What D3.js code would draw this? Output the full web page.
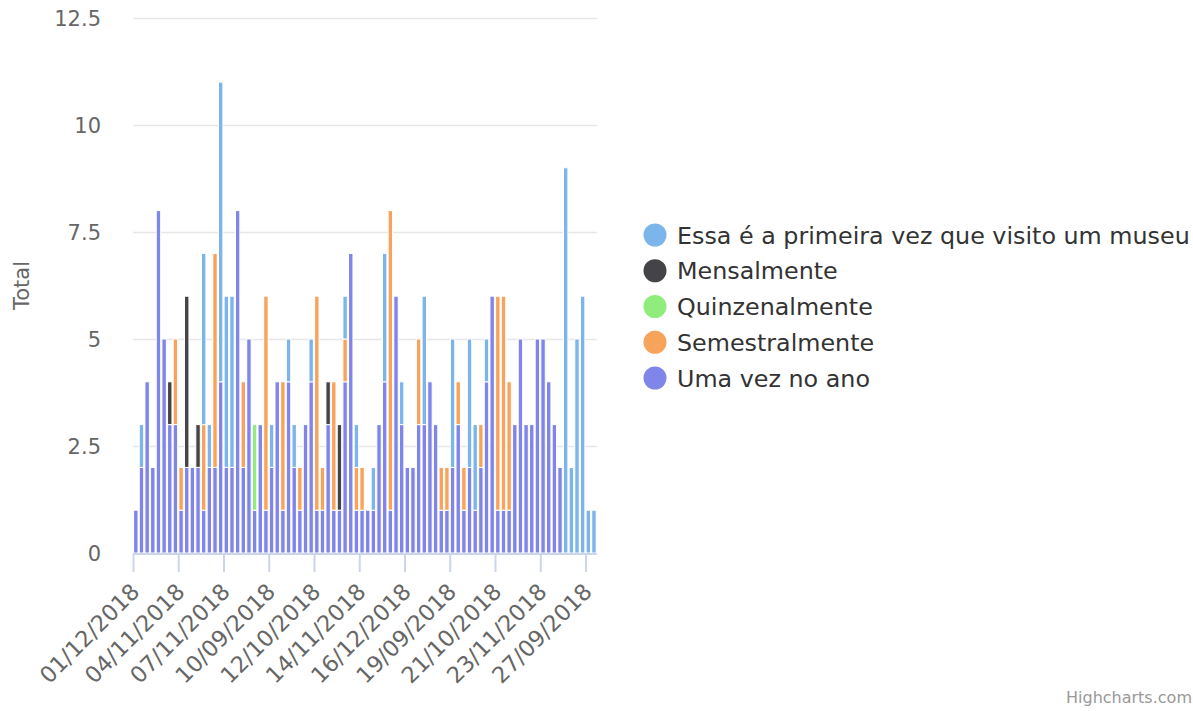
<!DOCTYPE html>
<html>
<head>
<meta charset="utf-8">
<script src="https://cdn.jsdelivr.net/npm/d3@7"></script>
<style>
  html, body { margin: 0; padding: 0; background: #fff; }
  svg { display: block; font-family: "DejaVu Sans", sans-serif; }
</style>
</head>
<body>
<svg id="chart" width="1193" height="711"></svg>
<script>
// ---------------- data ----------------
const categories = [
  "01/12/2018","02/10/2018","02/11/2018","03/10/2018","03/11/2018","03/12/2018","04/09/2018","04/10/2018",
  "04/11/2018","05/09/2018","05/10/2018","05/11/2018","05/12/2018","06/09/2018","06/10/2018","06/11/2018",
  "07/11/2018","07/12/2018","08/09/2018","08/10/2018","08/11/2018","09/10/2018","09/11/2018","09/12/2018",
  "10/09/2018","10/10/2018","10/11/2018","11/09/2018","11/10/2018","11/11/2018","11/12/2018","12/09/2018",
  "12/10/2018","12/11/2018","12/12/2018","13/09/2018","13/10/2018","13/11/2018","13/12/2018","14/10/2018",
  "14/11/2018","14/12/2018","15/09/2018","15/10/2018","15/11/2018","16/09/2018","16/10/2018","16/11/2018",
  "16/12/2018","17/09/2018","17/10/2018","17/11/2018","18/09/2018","18/10/2018","18/11/2018","18/12/2018",
  "19/09/2018","19/10/2018","19/11/2018","20/09/2018","20/10/2018","20/11/2018","20/12/2018","21/09/2018",
  "21/10/2018","21/11/2018","22/09/2018","22/10/2018","22/11/2018","22/12/2018","23/09/2018","23/10/2018",
  "23/11/2018","24/09/2018","24/10/2018","24/11/2018","25/09/2018","25/10/2018","26/09/2018","26/10/2018",
  "27/09/2018","28/09/2018"
];

const seriesNames = [
  "Essa é a primeira vez que visito um museu",
  "Mensalmente",
  "Quinzenalmente",
  "Semestralmente",
  "Uma vez no ano"
];
const seriesColors = ["#7cb5ec", "#434348", "#90ed7d", "#f7a35c", "#8085e9"];

const essa = [
  0,1,0,0,0,0,0,0,0,0,
  0,0,4,1,0,7,4,4,0,0,
  0,0,0,0,1,0,0,1,1,0,
  0,1,0,0,0,0,0,1,0,1,
  0,0,1,0,3,0,0,1,0,0,
  0,3,0,0,0,0,3,0,0,3,
  2,0,1,0,0,0,0,0,0,0,
  0,0,0,0,0,0,9,2,5,6,
  1,1
];
const mensalmente = [
  0,0,0,0,0,0,1,0,0,4,
  0,1,0,0,0,0,0,0,0,0,
  0,0,0,0,0,0,0,0,0,0,
  0,0,0,0,1,0,2,0,0,0,
  0,0,0,0,0,0,0,0,0,0,
  0,0,0,0,0,0,0,0,0,0,
  0,0,0,0,0,0,0,0,0,0,
  0,0,0,0,0,0,0,0,0,0,
  0,0
];
const quinzenalmente = [
  0,0,0,0,0,0,0,0,0,0,
  0,0,0,0,0,0,0,0,0,0,
  0,2,0,0,0,0,0,0,0,0,
  0,0,0,0,0,0,0,0,0,0,
  0,0,0,0,0,0,0,0,0,0,
  0,0,0,0,0,0,0,0,0,0,
  0,0,0,0,0,0,0,0,0,0,
  0,0,0,0,0,0,0,0,0,0,
  0,0
];
const semestralmente = [
  0,0,0,0,0,0,0,2,1,0,
  0,0,2,0,5,0,0,0,0,2,
  0,0,0,5,0,0,3,0,0,1,
  0,0,5,1,0,3,0,1,0,1,
  1,0,0,0,0,7,0,0,0,0,
  2,0,0,0,1,1,0,1,1,0,
  0,1,0,0,5,5,3,0,0,0,
  0,0,0,0,0,0,0,0,0,0,
  0,0
];
const umaVez = [
  1,2,4,2,8,5,3,3,1,2,
  2,2,1,2,2,4,2,2,8,2,
  5,1,3,1,2,4,1,4,2,1,
  3,4,1,1,3,1,1,4,7,1,
  1,1,1,3,4,1,6,3,2,2,
  3,3,4,3,1,1,2,3,1,2,
  1,2,4,6,1,1,1,3,5,3,
  3,5,5,4,3,2,0,0,0,0,
  0,0
];

const yTickValues = [0, 2.5, 5, 7.5, 10, 12.5];
const yTickLabels = ["0", "2.5", "5", "7.5", "10", "12.5"];
const xLabelStep = 8;
const yTitle = "Total";
const creditText = "Highcharts.com";

// ---------------- layout ----------------
const svg = d3.select("#chart");
const plot = { left: 133, right: 596.8, top: 18, bottom: 553 };
const FONT = "DejaVu Sans, sans-serif";

const seriesArrays = [essa, mensalmente, quinzenalmente, semestralmente, umaVez];
const keys = seriesNames;
const rows = categories.map((c, i) => {
  const r = { cat: c };
  keys.forEach((k, s) => r[k] = seriesArrays[s][i]);
  return r;
});
const stackOrder = [4, 3, 2, 1, 0].map(i => keys[i]); // Uma vez at bottom, Essa on top
const stacked = d3.stack().keys(stackOrder)(rows);

const x = d3.scaleBand().domain(categories).range([plot.left, plot.right])
  .paddingInner(0.22).paddingOuter(0.11);
const xSlot = d3.scaleLinear().domain([0, categories.length]).range([plot.left, plot.right]);
const y = d3.scaleLinear().domain([0, 12.5]).range([plot.bottom, plot.top]);

// grid + y labels
const yAxis = d3.axisLeft(y).tickValues(yTickValues)
  .tickSize(-(plot.right - plot.left)).tickPadding(32)
  .tickFormat((d, i) => yTickLabels[i]);
const gy = svg.append("g").attr("transform", `translate(${plot.left},0)`).call(yAxis);
gy.select(".domain").remove();
gy.selectAll(".tick line").attr("stroke", "#e6e6e6").attr("stroke-width", 1.6);
gy.selectAll(".tick text").attr("fill", "#666666").style("font-size", "21px")
  .style("font-family", FONT).attr("dy", "0.38em");

// bars
const colorOf = {};
keys.forEach((k, i) => colorOf[k] = seriesColors[i]);
svg.append("g").selectAll("g").data(stacked).join("g")
  .attr("fill", d => colorOf[d.key])
  .selectAll("rect").data(d => d.filter(p => p[1] - p[0] > 0)).join("rect")
  .attr("x", d => x(d.data.cat))
  .attr("width", x.bandwidth())
  .attr("y", d => y(d[1]))
  .attr("height", d => y(d[0]) - y(d[1]))
  .attr("stroke", "#ffffff").attr("stroke-width", 1);

// x axis
const tickIdx = d3.range(0, categories.length, xLabelStep);
const xAxis = d3.axisBottom(xSlot).tickValues(tickIdx).tickSize(18).tickFormat("");
const gx = svg.append("g").attr("transform", `translate(0,${plot.bottom + 1})`).call(xAxis);
gx.select(".domain").attr("stroke", "#ccd6eb").attr("stroke-width", 2)
  .attr("d", `M${plot.left},0H${plot.right}`);
gx.selectAll(".tick line").attr("stroke", "#ccd6eb").attr("stroke-width", 2);

svg.append("g").selectAll("text").data(tickIdx).join("text")
  .attr("transform", i => `translate(${x(categories[i]) + x.bandwidth() / 2 + 5},${plot.bottom + 40}) rotate(-45)`)
  .attr("text-anchor", "end")
  .attr("fill", "#666666")
  .style("font-size", "22.5px").style("font-family", FONT)
  .text(i => categories[i]);

// y title
svg.append("text")
  .attr("transform", `translate(29,${(plot.top + plot.bottom) / 2}) rotate(-90)`)
  .attr("text-anchor", "middle")
  .attr("fill", "#666666")
  .style("font-size", "21px").style("font-family", FONT)
  .text(yTitle);

// legend
const legend = svg.append("g");
const legendY = d3.scaleLinear().domain([0, 4]).range([235, 378]);
const items = legend.selectAll("g").data(seriesNames).join("g")
  .attr("transform", (d, i) => `translate(655,${legendY(i)})`);
items.append("circle").attr("r", 11.5).attr("fill", (d, i) => seriesColors[i]);
items.append("text").attr("x", 22).attr("dy", "0.36em")
  .attr("fill", "#333333").style("font-size", "23.8px").style("font-family", FONT)
  .text(d => d);

// credits
svg.append("text").attr("x", 1066).attr("y", 703)
  .attr("fill", "#999999").style("font-size", "16px").style("font-family", FONT)
  .text(creditText);
</script>
</body>
</html>
